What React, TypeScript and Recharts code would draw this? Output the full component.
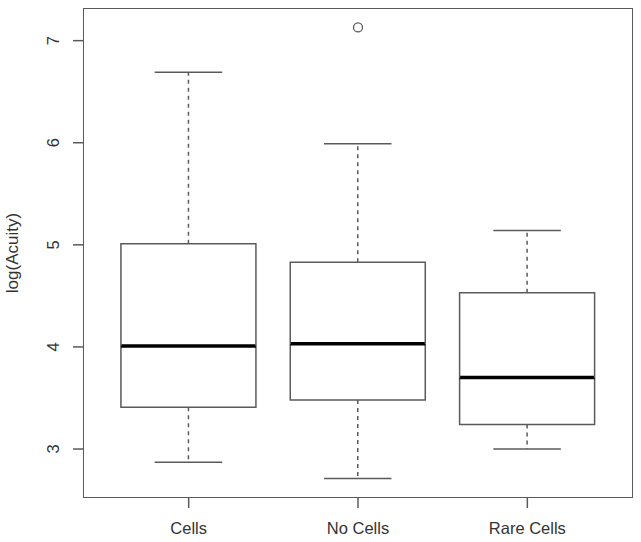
import React from "react";
import {
  ComposedChart, Bar, Scatter, XAxis, YAxis,
} from "recharts";

// box statistics (log scale values)
const groups = ["Cells", "No Cells", "Rare Cells"];
const lowWhisker = [2.87, 2.71, 3.0];
const lowerQuartile = [3.41, 3.48, 3.24];
const medians = [4.01, 4.03, 3.7];
const upperQuartile = [5.01, 4.83, 4.53];
const highWhisker = [6.69, 5.99, 5.14];
const outliers = [null, 7.13, null];
const yTicks = [3, 4, 5, 6, 7];

const LINE = "#5a5a5a";
const TEXT = "#333";
const FONT = "'Liberation Sans', Arial, sans-serif";

// stacked pieces: invisible base, then whisker / box / box / whisker
const data = groups.map((name, i) => ({
  name,
  base: lowWhisker[i],
  whiskerLow: lowerQuartile[i] - lowWhisker[i],
  boxLow: medians[i] - lowerQuartile[i],
  boxHigh: upperQuartile[i] - medians[i],
  whiskerHigh: highWhisker[i] - upperQuartile[i],
  outlier: outliers[i],
}));

const Empty = () => <g />;

const LowerWhisker = (p: any) => {
  const cx = p.x + p.width / 2;
  const bottom = p.y + p.height;
  return (
    <g>
      <line x1={cx} x2={cx} y1={p.y} y2={bottom} stroke={LINE} strokeWidth={1.5} strokeDasharray="4 4" />
      <line x1={cx - p.width / 4} x2={cx + p.width / 4} y1={bottom} y2={bottom} stroke={LINE} strokeWidth={1.5} />
    </g>
  );
};

const UpperWhisker = (p: any) => {
  const cx = p.x + p.width / 2;
  const bottom = p.y + p.height;
  return (
    <g>
      <line x1={cx} x2={cx} y1={bottom} y2={p.y} stroke={LINE} strokeWidth={1.5} strokeDasharray="4 4" />
      <line x1={cx - p.width / 4} x2={cx + p.width / 4} y1={p.y} y2={p.y} stroke={LINE} strokeWidth={1.5} />
    </g>
  );
};

const LowerBox = (p: any) => {
  const bottom = p.y + p.height;
  return (
    <g>
      <polyline
        points={`${p.x},${p.y} ${p.x},${bottom} ${p.x + p.width},${bottom} ${p.x + p.width},${p.y}`}
        fill="none" stroke={LINE} strokeWidth={1.5}
      />
      <line x1={p.x} x2={p.x + p.width} y1={p.y} y2={p.y} stroke="#000" strokeWidth={3.5} />
    </g>
  );
};

const UpperBox = (p: any) => {
  const bottom = p.y + p.height;
  return (
    <polyline
      points={`${p.x},${bottom} ${p.x},${p.y} ${p.x + p.width},${p.y} ${p.x + p.width},${bottom}`}
      fill="none" stroke={LINE} strokeWidth={1.5}
    />
  );
};

const OutlierDot = (p: any) => {
  if (p.payload?.outlier == null || !Number.isFinite(p.cy)) return <g />;
  return <circle cx={p.cx} cy={p.cy} r={4.5} fill="none" stroke={LINE} strokeWidth={1.3} />;
};

const YTick = ({ x, y, payload }: any) => (
  <text
    x={x - 14} y={y} transform={`rotate(-90, ${x - 14}, ${y})`}
    textAnchor="middle" fill={TEXT} fontSize={16.5} fontFamily={FONT}
  >
    {payload.value}
  </text>
);

const XTick = ({ x, y, payload }: any) => (
  <text x={x} y={y + 26} textAnchor="middle" fill={TEXT} fontSize={16.5} fontFamily={FONT}>
    {payload.value}
  </text>
);

const YLabel = ({ viewBox }: any) => {
  const cy = viewBox.y + viewBox.height / 2;
  return (
    <text
      x={18} y={cy} transform={`rotate(-90, 18, ${cy})`}
      textAnchor="middle" fill={TEXT} fontSize={17} fontFamily={FONT}
    >
      log(Acuity)
    </text>
  );
};

const App: React.FC = () => {
  return (
    <div style={{ position: "absolute", left: 0, top: 0, width: 641, height: 542, background: "#fff" }}>
      <ComposedChart
        width={641}
        height={542}
        data={data}
        margin={{ top: 9, right: 9, bottom: 0, left: 0 }}
        barCategoryGap="10%"
      >
        <XAxis
          dataKey="name"
          type="category"
          padding={{ left: 20, right: 20 }}
          height={45}
          tickSize={11}
          tickMargin={0}
          tick={<XTick />}
          tickLine={{ stroke: LINE, strokeWidth: 1.5 }}
          axisLine={false}
        />
        <YAxis
          type="number"
          domain={[2.53, 7.31]}
          ticks={yTicks}
          allowDataOverflow
          width={84}
          tickSize={11}
          tickMargin={0}
          tick={<YTick />}
          tickLine={{ stroke: LINE, strokeWidth: 1.5 }}
          axisLine={false}
          label={{ value: "log(Acuity)", content: <YLabel /> }}
        />
        <Bar dataKey="base" stackId="box" shape={<Empty />} isAnimationActive={false} />
        <Bar dataKey="whiskerLow" stackId="box" shape={<LowerWhisker />} isAnimationActive={false} />
        <Bar dataKey="boxLow" stackId="box" shape={<LowerBox />} isAnimationActive={false} />
        <Bar dataKey="boxHigh" stackId="box" shape={<UpperBox />} isAnimationActive={false} />
        <Bar dataKey="whiskerHigh" stackId="box" shape={<UpperWhisker />} isAnimationActive={false} />
        <Scatter dataKey="outlier" isAnimationActive={false} shape={<OutlierDot />} />
      </ComposedChart>
      {/* plot frame */}
      <div
        style={{
          position: "absolute", left: 83.25, top: 8.25, width: 549.5, height: 489.5,
          border: `1.5px solid ${LINE}`, boxSizing: "border-box", pointerEvents: "none",
        }}
      />
    </div>
  );
};

export default App;
